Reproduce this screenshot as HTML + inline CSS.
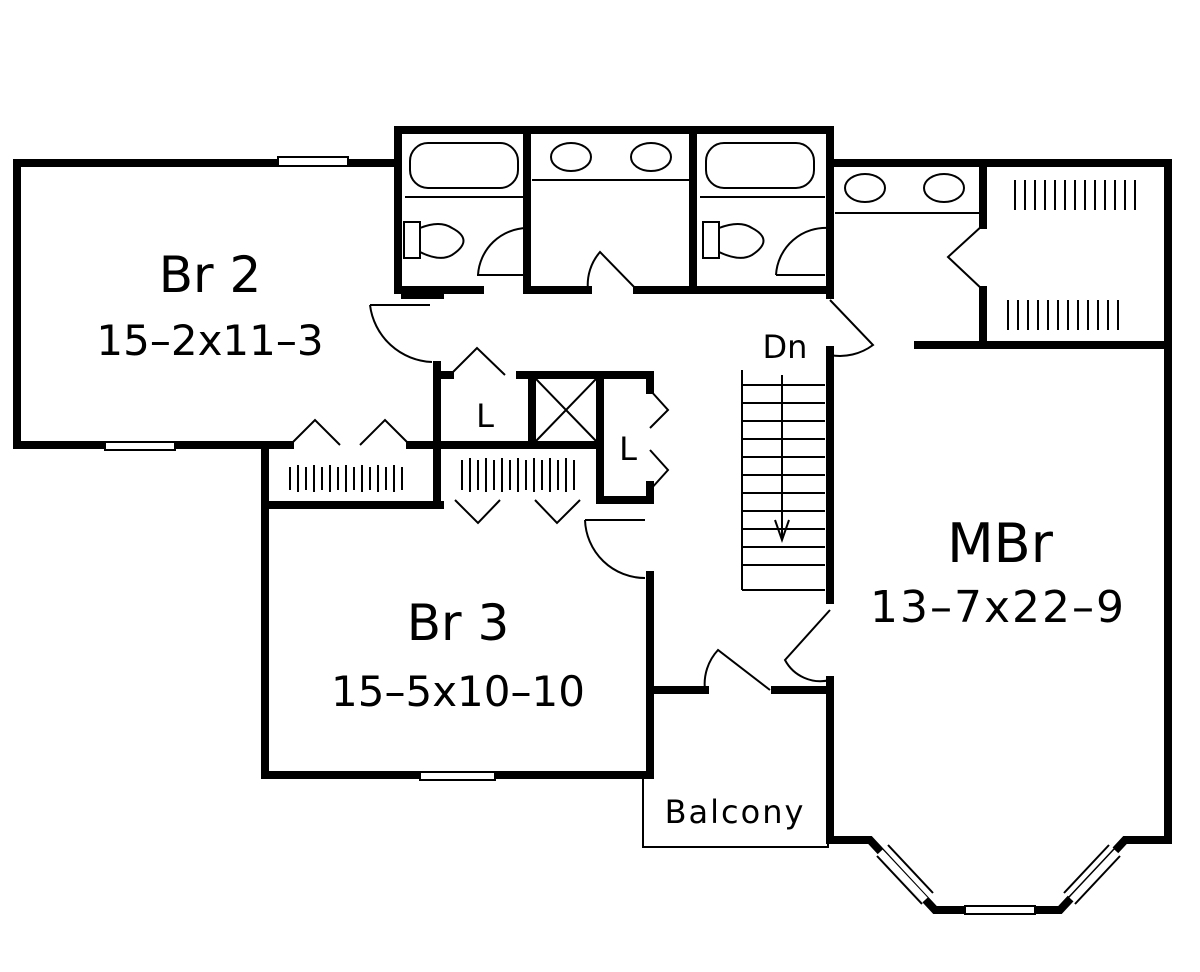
<!DOCTYPE html>
<html><head><style>body{margin:0;background:#fff}svg{display:block}text{font-family:"DejaVu Sans","Liberation Sans",sans-serif;fill:#000}</style></head><body>
<svg width="1200" height="972" viewBox="0 0 1200 972" xmlns="http://www.w3.org/2000/svg">
<g stroke="#000" stroke-width="8" fill="none" stroke-linecap="square">
<path d="M278 163 H17 V445 H105 M175 445 H265"/>
<path d="M348 163 H395"/>
<path d="M265 445 V775 H420 M495 775 H650 V575"/>
<path d="M265 505 H440 M265 445 H290 M410 445 H600"/>
<path d="M437 365 V500 M437 375 H450 M520 375 H650 V390 M532 375 V445 M600 375 V500 H650 V485"/>
<path d="M398 130 H830 V295 M398 130 V290 H480 M527 130 V290 M693 130 V290 M405 295 H440"/>
<path d="M527 290 H588 M637 290 H830"/>
<path d="M830 163 H1168 V840 H1125 L1060 910 H935 L870 840 H830 V680"/>
<path d="M983 163 V225 M983 290 V345 H1168 M918 345 H983"/>
<path d="M830 350 V600"/>
<path d="M650 690 H705 M775 690 H830"/>
<path d="M650 690 V775"/>
</g>
<g stroke="#000" stroke-width="2" fill="none">
<rect x="278" y="157" width="70" height="9" fill="#fff"/><rect x="105" y="442" width="70" height="8" fill="#fff"/>
<rect x="420" y="772" width="75" height="8" fill="#fff"/><rect x="965" y="906" width="70" height="8" fill="#fff"/>
<path d="M880 852 L925 900 M886 846 L931 894" stroke-width="7" stroke="#fff"/>
<path d="M877 856 L922 904 M888 845 L933 893"/>
<path d="M1072 900 L1117 852 M1066 894 L1111 846" stroke-width="7" stroke="#fff"/>
<path d="M1075 904 L1120 856 M1064 893 L1109 845"/>
<rect x="410" y="143" width="108" height="45" rx="18"/><line x1="405" y1="197" x2="523" y2="197"/>
<rect x="706" y="143" width="108" height="45" rx="18"/><line x1="700" y1="197" x2="825" y2="197"/>
<line x1="532" y1="180" x2="690" y2="180"/>
<ellipse cx="571" cy="157" rx="20" ry="14"/><ellipse cx="651" cy="157" rx="20" ry="14"/>
<line x1="835" y1="213" x2="980" y2="213"/>
<ellipse cx="865" cy="188" rx="20" ry="14"/><ellipse cx="944" cy="188" rx="20" ry="14"/>
<rect x="404" y="222" width="16" height="36"/><path d="M420 228 Q440 220 452 228 Q475 240 452 255 Q440 262 420 252"/>
<rect x="703" y="222" width="16" height="36"/><path d="M719 228 Q740 220 752 228 Q775 240 752 255 Q740 262 719 252"/>
<path d="M478 275 A50 50 0 0 1 527 228"/><path d="M477 275 H525"/>
<path d="M776 275 A50 50 0 0 1 830 228"/><path d="M776 275 H825"/>
<path d="M588 290 A50 50 0 0 1 600 252 L637 290"/>
<path d="M370 305 H430 M370 305 A65 65 0 0 0 432 362"/>
<path d="M830 300 L873 345 A55 55 0 0 1 830 355"/>
<path d="M830 610 L785 660 A40 40 0 0 0 830 680"/>
<path d="M705 690 A50 50 0 0 1 718 650 L770 690"/>
<path d="M585 520 H645 M585 520 A60 60 0 0 0 645 578"/>
<path d="M983 225 L948 257 L983 290"/>
<path d="M450 375 L477 348 L505 375"/>
<path d="M290 445 L315 420 L340 445 M360 445 L385 420 L410 445"/>
<path d="M455 500 L478 523 L500 500 M535 500 L557 523 L580 500"/>
<path d="M650 390 L668 410 L650 428 M650 450 L668 470 L650 490"/>
<path d="M536 379 L596 441 M596 379 L536 441"/>
<path d="M742 370 V590 M742 590 H825"/>
<path d="M782 375 V540 M775 520 L782 540 L789 520"/>
<path d="M742 385 H825 M742 403 H825 M742 421 H825 M742 439 H825 M742 457 H825 M742 475 H825 M742 493 H825 M742 511 H825 M742 529 H825 M742 547 H825 M742 565 H825"/>
<path d="M643 775 V847 H828 V840"/>
</g>
<g stroke="#000" stroke-width="2">
<path d="M290 467 V490 M298 465 V492 M306 467 V490 M314 465 V492 M322 467 V490 M330 465 V492 M338 467 V490 M346 465 V492 M354 467 V490 M362 465 V492 M370 467 V490 M378 465 V492 M386 467 V490 M394 465 V492 M402 467 V490"/>
<path d="M462 460 V490 M470 458 V492 M478 460 V490 M486 458 V492 M494 460 V490 M502 458 V492 M510 460 V490 M518 458 V492 M526 460 V490 M534 458 V492 M542 460 V490 M550 458 V492 M558 460 V490 M566 458 V492 M574 460 V490"/>
<path d="M1015 180 V210 M1025 180 V210 M1035 180 V210 M1045 180 V210 M1055 180 V210 M1065 180 V210 M1075 180 V210 M1085 180 V210 M1095 180 V210 M1105 180 V210 M1115 180 V210 M1125 180 V210 M1135 180 V210"/>
<path d="M1008 300 V330 M1018 300 V330 M1028 300 V330 M1038 300 V330 M1048 300 V330 M1058 300 V330 M1068 300 V330 M1078 300 V330 M1088 300 V330 M1098 300 V330 M1108 300 V330 M1118 300 V330"/>
</g>
<g text-anchor="middle">
<text x="210" y="292" font-size="50">Br 2</text>
<text x="210" y="355" font-size="42">15–2x11–3</text>
<text x="458" y="640" font-size="50">Br 3</text>
<text x="458" y="706" font-size="42">15–5x10–10</text>
<text x="1000" y="562" font-size="54">MBr</text>
<text x="998" y="622" font-size="44" letter-spacing="2">13–7x22–9</text>
<text x="735" y="823" font-size="32" letter-spacing="2">Balcony</text>
<text x="785" y="358" font-size="32">Dn</text>
<text x="485" y="427" font-size="32">L</text>
<text x="628" y="460" font-size="32">L</text>
</g>
</svg>
</body></html>
